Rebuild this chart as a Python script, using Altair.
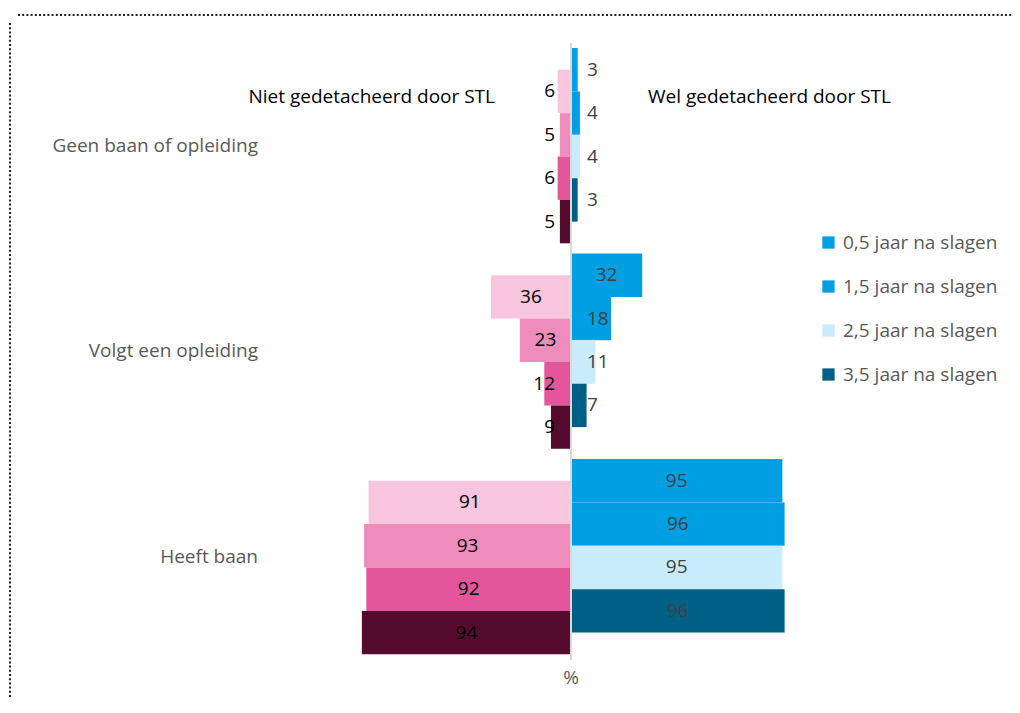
import altair as alt
import pandas as pd

# ---------------- data ----------------
categories = ["Geen baan of opleiding", "Volgt een opleiding", "Heeft baan"]
periods = ["0,5 jaar na slagen", "1,5 jaar na slagen", "2,5 jaar na slagen", "3,5 jaar na slagen"]

wel_geen = [3, 4, 4, 3]
wel_volgt = [32, 18, 11, 7]
wel_heeft = [95, 96, 95, 96]

niet_geen = [6, 5, 6, 5]
niet_volgt = [36, 23, 12, 9]
niet_heeft = [91, 93, 92, 94]

wel_colors = ["#009FE3", "#009FE3", "#C8ECFB", "#005F87"]
niet_colors = ["#F7C5DE", "#EE8DBB", "#E3569B", "#550B2D"]

header_left = "Niet gedetacheerd door STL"
header_right = "Wel gedetacheerd door STL"
axis_unit = "%"

# ---------------- layout constants ----------------
GROUP_STEP = 4.735   # in bar heights
HALF = 0.5           # left series are shifted half a bar down
FONT = "Open Sans"
FS = 19

wel = [wel_geen, wel_volgt, wel_heeft]
niet = [niet_geen, niet_volgt, niet_heeft]

rows = []
for gi, cat in enumerate(categories):
    for si, per in enumerate(periods):
        top = gi * GROUP_STEP + si
        rows.append(dict(side="wel", category=cat, period=per, value=wel[gi][si],
                         signed=wel[gi][si], half=wel[gi][si] / 2,
                         pos=top, pos2=top + 1, mid=top + 0.5))
        top_l = top + HALF
        rows.append(dict(side="niet", category=cat, period=per, value=niet[gi][si],
                         signed=-niet[gi][si], half=-niet[gi][si] / 2,
                         pos=top_l, pos2=top_l + 1, mid=top_l + 0.5))
df = pd.DataFrame(rows)
cat_df = pd.DataFrame({"category": categories,
                       "center": [gi * GROUP_STEP + 2.25 for gi in range(len(categories))]})
one = pd.DataFrame({"k": [0]})

W, H = 1004, 690
PX_PER_UNIT = 2.225
CENTER_X = 563
BAR_PX = 43.4
TOP_PX = 40

xscale = alt.Scale(domain=[-CENTER_X / PX_PER_UNIT, (W - CENTER_X) / PX_PER_UNIT], nice=False, zero=False)
yscale = alt.Scale(domain=[-TOP_PX / BAR_PX, (H - TOP_PX) / BAR_PX], nice=False, zero=False, reverse=True)

X = lambda f: alt.X(f, type="quantitative", scale=xscale, axis=None)
Y = lambda f: alt.Y(f, type="quantitative", scale=yscale, axis=None)
X0 = alt.X(datum=0, scale=xscale, axis=None)

base = alt.Chart(df)

right_bars = base.transform_filter(alt.datum.side == "wel").mark_bar().encode(
    x=X("signed"), x2=alt.X2(datum=0), y=Y("pos"), y2="pos2",
    color=alt.Color("period:N", scale=alt.Scale(domain=periods, range=wel_colors),
                    legend=alt.Legend(title=None, orient="none", legendX=811, legendY=225,
                                      symbolType="square", symbolSize=150, symbolStrokeWidth=0,
                                      labelFontSize=FS, labelFont=FONT, labelColor="#595959",
                                      labelOffset=5, rowPadding=24)),
)

left_bars = base.transform_filter(alt.datum.side == "niet").mark_bar().encode(
    x=X("signed"), x2=alt.X2(datum=0), y=Y("pos"), y2="pos2",
    color=alt.Color("period:N", scale=alt.Scale(domain=periods, range=niet_colors), legend=None),
)

txt = dict(font=FONT, fontSize=FS, baseline="middle")

right_in = base.transform_filter((alt.datum.side == "wel") & (alt.datum.value >= 20)).mark_text(
    align="center", color="#404040", **txt).encode(x=X("half"), y=Y("mid"), text="value:Q")
right_out = base.transform_filter((alt.datum.side == "wel") & (alt.datum.value < 20)).mark_text(
    align="left", dx=16, color="#404040", **txt).encode(x=X0, y=Y("mid"), text="value:Q")
left_in = base.transform_filter((alt.datum.side == "niet") & (alt.datum.value >= 20)).mark_text(
    align="center", color="#000000", **txt).encode(x=X("half"), y=Y("mid"), text="value:Q")
left_out = base.transform_filter((alt.datum.side == "niet") & (alt.datum.value < 20)).mark_text(
    align="right", dx=-16, color="#000000", **txt).encode(x=X0, y=Y("mid"), text="value:Q")

cat_labels = alt.Chart(cat_df).mark_text(align="right", color="#595959", **txt).encode(
    x=alt.value(250), y=Y("center"), text="category:N")

center_line = alt.Chart(one).mark_rule(color="#D9D9D9", strokeWidth=2).encode(
    x=X0, y=alt.value(35), y2=alt.value(652))

hdr_l = alt.Chart(one).mark_text(align="right", color="#000000", text=header_left, **txt).encode(
    x=alt.value(487), y=alt.value(89))
hdr_r = alt.Chart(one).mark_text(align="left", color="#000000", text=header_right, **txt).encode(
    x=alt.value(640), y=alt.value(89))
unit = alt.Chart(one).mark_text(align="center", color="#595959", text=axis_unit, **txt).encode(
    x=X0, y=alt.value(670))

border_top = alt.Chart(one).mark_rule(color="#222222", strokeWidth=2, strokeDash=[2, 2.2]).encode(
    x=alt.value(10), x2=alt.value(W), y=alt.value(7))
border_left = alt.Chart(one).mark_rule(color="#222222", strokeWidth=2, strokeDash=[2, 2.2]).encode(
    x=alt.value(2), y=alt.value(15), y2=alt.value(H))

chart = alt.layer(
    left_bars, right_bars, center_line,
    right_in, right_out, left_in, left_out,
    cat_labels, hdr_l, hdr_r, unit, border_top, border_left,
).resolve_scale(color="independent").properties(
    width=W, height=H, padding=0, autosize=alt.AutoSizeParams(type="none"),
).configure_view(stroke=None)

chart.save("out.html", embed_options={"renderer": "svg", "actions": False})
